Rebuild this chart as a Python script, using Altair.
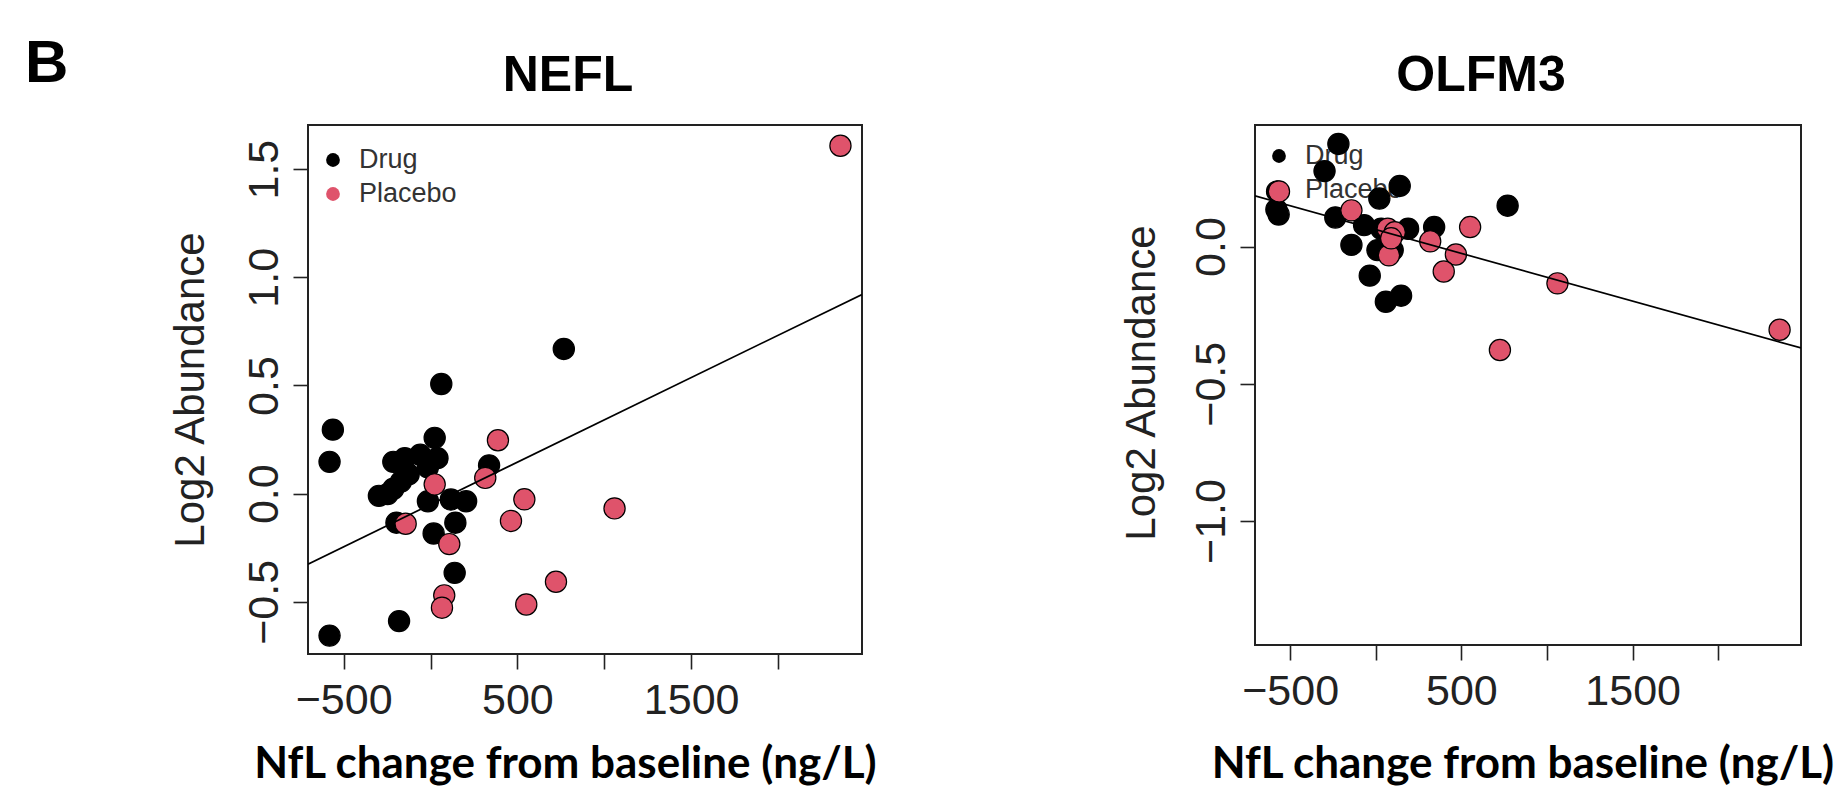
import altair as alt
import pandas as pd

# ---------------- data ----------------
GROUPS = ["Drug", "Placebo"]
GROUP_COLORS = ["#000000", "#DF536B"]

X_TICKS = [-500, 0, 500, 1000, 1500, 2000]
X_DOMAIN = [-705, 2483]

# NEFL panel
NEFL_DRUG_X = [-562, -581, -581, -181, 62, 767, 24, -214, -148, -59, 40, -15, -126,
               -170, -214, -297, -247, -15, 117, 205, -196, 143, 18, 139, 337]
NEFL_DRUG_Y = [0.296, 0.147, -0.656, -0.589, 0.507, 0.669, 0.258, 0.147, 0.164, 0.180,
               0.164, 0.122, 0.089, 0.056, 0.023, -0.010, -0.002, -0.035, -0.027, -0.035,
               -0.134, -0.134, -0.184, -0.366, 0.131]
NEFL_PLACEBO_X = [2359, 388, 315, 24, 540, 1059, 463, -143, 108, 722, 79, 66, 551]
NEFL_PLACEBO_Y = [1.608, 0.247, 0.073, 0.043, -0.026, -0.068, -0.126, -0.139, -0.233,
                  -0.407, -0.470, -0.527, -0.512]
NEFL_FIT = [-0.050, 0.000391]          # intercept, slope
NEFL_Y_DOMAIN = [-0.741, 1.704]
NEFL_Y_TICKS = [-0.5, 0.0, 0.5, 1.0, 1.5]

# OLFM3 panel
OLFM3_DRUG_X = [-218, -299, -576, -567, -580, -236, 140, 21, 770, -68, -142, 10, 99,
                189, 341, -35, 59, 148, 32]
OLFM3_DRUG_Y = [0.374, 0.275, 0.201, 0.117, 0.135, 0.106, 0.221, 0.175, 0.149, 0.078,
                0.006, -0.013, -0.013, 0.065, 0.071, -0.106, -0.201, -0.179, 0.065]
OLFM3_PLACEBO_X = [-565, -142, 70, 111, 77, 318, 551, 468, 397, 1061, 725, 2358, 90]
OLFM3_PLACEBO_Y = [0.201, 0.132, 0.065, 0.052, -0.032, 0.019, 0.071, -0.029, -0.091,
                   -0.134, -0.377, -0.303, 0.030]
OLFM3_FIT = [0.062, -0.0001738]
OLFM3_Y_DOMAIN = [-1.452, 0.443]
OLFM3_Y_TICKS = [-1.0, -0.5, 0.0]

PANEL_LETTER = "B"
X_TITLE = "NfL change from baseline (ng/L)"
Y_TITLE = "Log2 Abundance"

# ---------------- helpers ----------------
ONE = pd.DataFrame({"k": [0]})
INK = "#222222"


def text(s, x, y, size, font="Liberation Sans", weight="normal", align="center",
         baseline="alphabetic", angle=0, color="black"):
    kw = dict(align=align, baseline=baseline, font=font, fontSize=size,
              fontWeight=weight, color=color)
    if angle:
        kw["angle"] = angle
    return alt.Chart(ONE).mark_text(**kw).encode(
        x=alt.value(x), y=alt.value(y), text=alt.value(s))


def dot(x, y, color, size=190):
    return alt.Chart(ONE).mark_circle(size=size, color=color, opacity=1).encode(
        x=alt.value(x), y=alt.value(y))


x_axis = alt.Axis(
    values=X_TICKS, format="d",
    labelExpr="(datum.value == 0 || datum.value == 1000 || datum.value == 2000) ? '' : datum.label",
    title=None, grid=False, domain=False, ticks=True, tickSize=15, tickWidth=1.6,
    tickColor=INK, labelFont="Liberation Sans", labelFontSize=43, labelColor=INK,
    labelPadding=10, labelOverlap=False, labelFlush=False)


def y_axis(ticks):
    return alt.Axis(
        values=ticks, format=".1f", title=None, grid=False, domain=False, ticks=True,
        tickSize=15, tickWidth=1.6, tickColor=INK, labelFont="Liberation Sans",
        labelFontSize=43, labelColor=INK, labelAngle=270, labelAlign="center",
        labelBaseline="alphabetic", labelPadding=16, labelOverlap=False, labelFlush=False)


def panel(title, dx, dy, px, py, fit, ydom, yticks, width, height,
          title_x, ytitle_x, ytitle_y, xtitle_x, xtitle_y, leg_x, leg_y0, leg_y1, extra=()):
    pts = pd.DataFrame({
        "x": dx + px,
        "y": dy + py,
        "group": [GROUPS[0]] * len(dx) + [GROUPS[1]] * len(px),
    })
    xs = alt.X("x:Q", scale=alt.Scale(domain=X_DOMAIN, nice=False, zero=False), axis=x_axis)
    ys = alt.Y("y:Q", scale=alt.Scale(domain=ydom, nice=False, zero=False), axis=y_axis(yticks))
    points = alt.Chart(pts).mark_circle(size=450, stroke="black", strokeWidth=1.2, opacity=1).encode(
        x=xs, y=ys,
        color=alt.Color("group:N", scale=alt.Scale(domain=GROUPS, range=GROUP_COLORS), legend=None),
    )
    line_df = pd.DataFrame({"x": X_DOMAIN, "y": [fit[0] + fit[1] * v for v in X_DOMAIN]})
    line = alt.Chart(line_df).mark_line(color="black", strokeWidth=1.7, clip=True).encode(x=xs, y=ys)

    legend = [
        dot(leg_x, leg_y0, GROUP_COLORS[0]),
        dot(leg_x, leg_y1, GROUP_COLORS[1]),
        text(GROUPS[0], leg_x + 26, leg_y0, 27, align="left", baseline="middle", color="#333333"),
        text(GROUPS[1], leg_x + 26, leg_y1, 27, align="left", baseline="middle", color="#333333"),
    ]
    annots = [
        text(title, title_x, -34, 50, weight="bold"),
        text(Y_TITLE, ytitle_x, ytitle_y, 42, angle=270, color=INK),
        text(X_TITLE, xtitle_x, xtitle_y, 44, font="Lato", weight="bold"),
    ] + list(extra)
    return alt.layer(*legend, points, line, *annots).properties(width=width, height=height)


# plot areas: left at (308,125) 554x529, right at (1255,125) 546x520
left = panel("NEFL", NEFL_DRUG_X, NEFL_DRUG_Y, NEFL_PLACEBO_X, NEFL_PLACEBO_Y, NEFL_FIT,
             NEFL_Y_DOMAIN, NEFL_Y_TICKS, 554, 529,
             title_x=260, ytitle_x=-104, ytitle_y=265, xtitle_x=257.5, xtitle_y=653,
             leg_x=25, leg_y0=35, leg_y1=69,
             extra=[text(PANEL_LETTER, -283, -43, 60, weight="bold", align="left")])

right = panel("OLFM3", OLFM3_DRUG_X, OLFM3_DRUG_Y, OLFM3_PLACEBO_X, OLFM3_PLACEBO_Y, OLFM3_FIT,
              OLFM3_Y_DOMAIN, OLFM3_Y_TICKS, 546, 520,
              title_x=226, ytitle_x=-100, ytitle_y=258, xtitle_x=268, xtitle_y=653,
              leg_x=24, leg_y0=31, leg_y1=65)

# whole canvas kept to 1831 x 778 so that it fits the 1847 x 794 window with its 8px margin
chart = alt.hconcat(left, right, spacing=393, bounds="flush").properties(
    autosize=alt.AutoSizeParams(type="none"),
    padding={"left": 300, "top": 117, "right": 1531, "bottom": 661},
    background="white",
).configure_view(stroke=INK, strokeWidth=2)

chart.save("out.html", embed_options={"renderer": "svg", "actions": False})
